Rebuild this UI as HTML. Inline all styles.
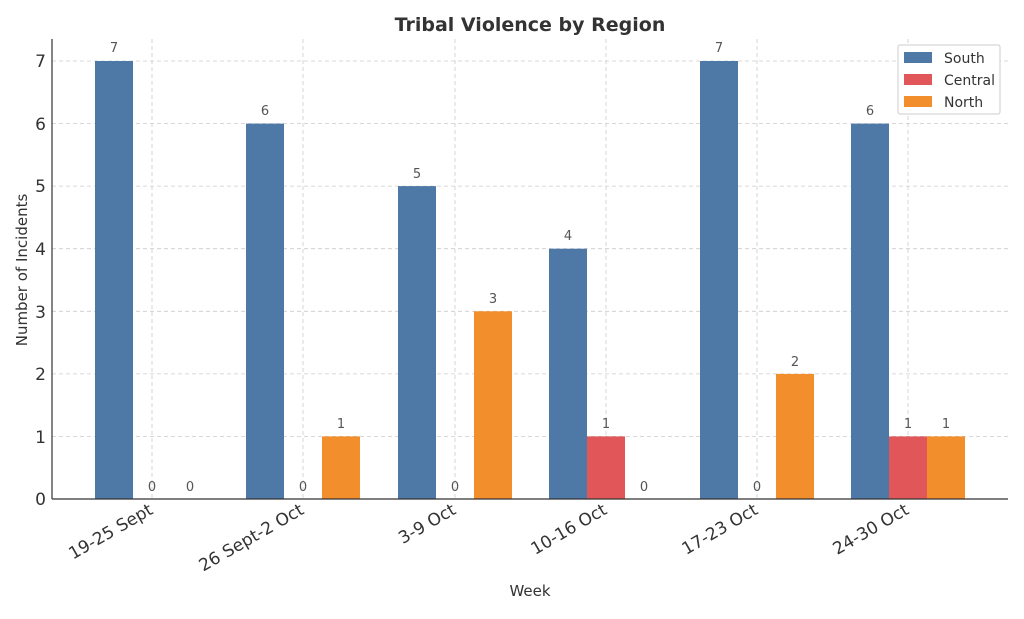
<!DOCTYPE html>
<html><head><meta charset="utf-8"><style>
body{margin:0;background:#fff;}
svg text{font-family:"DejaVu Sans","Liberation Sans",sans-serif;}
</style></head><body>
<svg width="1024" height="614" xmlns="http://www.w3.org/2000/svg">
<rect width="1024" height="614" fill="#fff"/>
<text x="530" y="31" text-anchor="middle" font-size="19" font-weight="bold" fill="#333">Tribal Violence by Region</text>
<g stroke="#ccc" stroke-dasharray="4,3" stroke-width="0.8">
<line x1="52" x2="1008" y1="436.4" y2="436.4"/><line x1="52" x2="1008" y1="373.9" y2="373.9"/>
<line x1="52" x2="1008" y1="311.3" y2="311.3"/><line x1="52" x2="1008" y1="248.7" y2="248.7"/>
<line x1="52" x2="1008" y1="186.1" y2="186.1"/><line x1="52" x2="1008" y1="123.6" y2="123.6"/>
<line x1="52" x2="1008" y1="61" y2="61"/>
<line x1="152" x2="152" y1="39" y2="499"/><line x1="303" x2="303" y1="39" y2="499"/>
<line x1="455" x2="455" y1="39" y2="499"/><line x1="606" x2="606" y1="39" y2="499"/>
<line x1="757" x2="757" y1="39" y2="499"/><line x1="908" x2="908" y1="39" y2="499"/>
</g>
<g>
<rect x="95" y="61" width="38" height="438" fill="#4e79a7"/>
<rect x="246" y="123.6" width="38" height="375.4" fill="#4e79a7"/>
<rect x="322" y="436.4" width="38" height="62.6" fill="#f28e2b"/>
<rect x="398" y="186.1" width="38" height="312.9" fill="#4e79a7"/>
<rect x="474" y="311.3" width="38" height="187.7" fill="#f28e2b"/>
<rect x="549" y="248.7" width="38" height="250.3" fill="#4e79a7"/>
<rect x="587" y="436.4" width="38" height="62.6" fill="#e15759"/>
<rect x="700" y="61" width="38" height="438" fill="#4e79a7"/>
<rect x="776" y="373.9" width="38" height="125.1" fill="#f28e2b"/>
<rect x="851" y="123.6" width="38" height="375.4" fill="#4e79a7"/>
<rect x="889" y="436.4" width="38" height="62.6" fill="#e15759"/>
<rect x="927" y="436.4" width="38" height="62.6" fill="#f28e2b"/>
</g>
<g font-size="13" fill="#555" text-anchor="middle">
<text x="114" y="52">7</text><text x="152" y="491">0</text><text x="190" y="491">0</text>
<text x="265" y="115">6</text><text x="303" y="491">0</text><text x="341" y="428">1</text>
<text x="417" y="178">5</text><text x="455" y="491">0</text><text x="493" y="303">3</text>
<text x="568" y="240">4</text><text x="606" y="428">1</text><text x="644" y="491">0</text>
<text x="719" y="52">7</text><text x="757" y="491">0</text><text x="795" y="366">2</text>
<text x="870" y="115">6</text><text x="908" y="428">1</text><text x="946" y="428">1</text>
</g>
<line x1="52" x2="52" y1="39" y2="499" stroke="#333" stroke-width="1.2"/>
<line x1="52" x2="1008" y1="499" y2="499" stroke="#333" stroke-width="1.2"/>
<g font-size="17" fill="#333" text-anchor="end">
<text x="46" y="505">0</text><text x="46" y="443">1</text><text x="46" y="380">2</text>
<text x="46" y="318">3</text><text x="46" y="255">4</text><text x="46" y="192">5</text><text x="46" y="130">6</text><text x="46" y="67">7</text>
</g>
<text transform="translate(27,270) rotate(-90)" text-anchor="middle" font-size="15" fill="#333">Number of Incidents</text>
<text x="530" y="596" text-anchor="middle" font-size="15" fill="#333">Week</text>
<g font-size="17" fill="#333" text-anchor="end">
<text transform="translate(154,513) rotate(-30)">19-25 Sept</text>
<text transform="translate(305,513) rotate(-30)">26 Sept-2 Oct</text>
<text transform="translate(457,513) rotate(-30)">3-9 Oct</text>
<text transform="translate(608,513) rotate(-30)">10-16 Oct</text>
<text transform="translate(759,513) rotate(-30)">17-23 Oct</text>
<text transform="translate(910,513) rotate(-30)">24-30 Oct</text>
</g>
<g>
<rect x="898" y="45" width="102" height="69" fill="#fff" stroke="#ccc" rx="2"/>
<rect x="904" y="52" width="28" height="11" fill="#4e79a7"/><text x="944" y="63" font-size="14" fill="#333">South</text>
<rect x="904" y="74" width="28" height="11" fill="#e15759"/><text x="944" y="85" font-size="14" fill="#333">Central</text>
<rect x="904" y="96" width="28" height="11" fill="#f28e2b"/><text x="944" y="107" font-size="14" fill="#333">North</text>
</g>
</svg>
</body></html>
